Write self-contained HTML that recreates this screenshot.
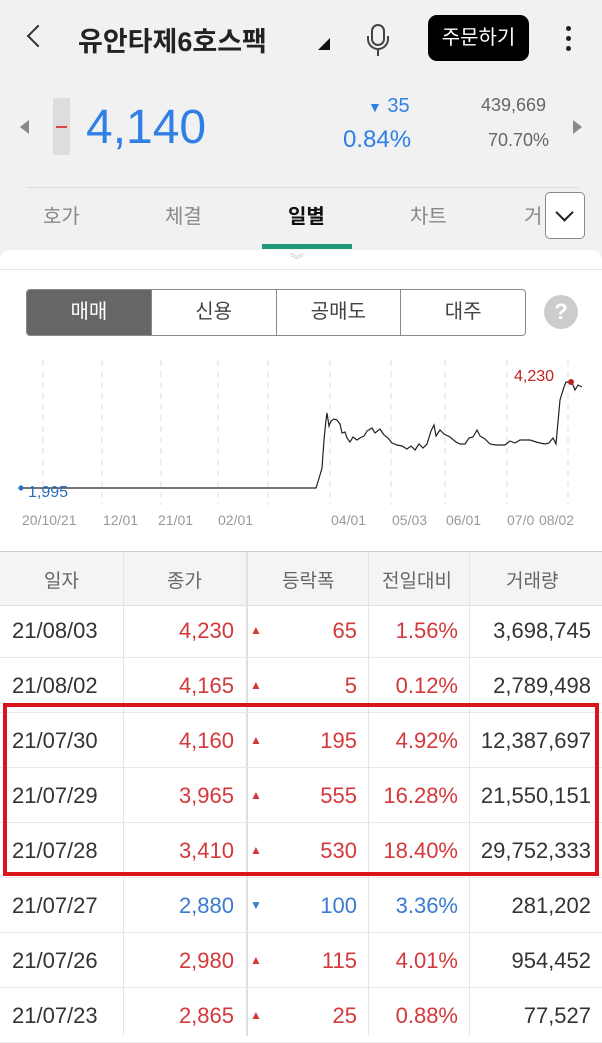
<!DOCTYPE html>
<html><head><meta charset="utf-8"><style>
*{margin:0;padding:0;box-sizing:border-box}
body{width:602px;height:1036px;overflow:hidden;background:#fff;font-family:"Liberation Sans","Noto Sans CJK KR",sans-serif;position:relative}
.a{position:absolute}
.top{left:0;top:0;width:602px;height:262px;background:#f1f1f1}
.row{position:absolute;left:0;width:602px;height:55px;border-bottom:1px solid #e8e8e8}
.c{position:absolute;top:0;height:55px;line-height:55px;font-size:22px;color:#333}
.r{color:#d4383a}.b{color:#3a7ad0}
.vl{position:absolute;top:552px;bottom:0;width:1px;background:#e6e6e6}
</style></head><body>
<div class="a top"></div>
<div class="a" style="top:28px;width:16px;height:16px;border-left:2px solid #333;border-bottom:2px solid #333;transform:rotate(45deg);left:30px"></div>
<div class="a" style="left:78px;top:20px;font-size:27px;font-weight:bold;color:#222">유안타제6호스팩</div>
<div class="a" style="left:318px;top:38px;width:0;height:0;border-left:12px solid transparent;border-bottom:12px solid #111"></div>
<div class="a" style="left:371px;top:24px;width:14px;height:22px;border:2px solid #444;border-radius:7px"></div>
<div class="a" style="left:367px;top:36px;width:22px;height:14px;border:2px solid #444;border-top:none;border-radius:0 0 11px 11px"></div>
<div class="a" style="left:377px;top:50px;width:2px;height:6px;background:#444"></div>
<div class="a" style="left:428px;top:15px;width:101px;height:46px;background:#000;border-radius:9px;color:#fff;font-size:20px;line-height:46px;text-align:center">주문하기</div>
<div class="a" style="left:566px;top:26px;width:5px;height:5px;background:#222;border-radius:50%;box-shadow:0 10px 0 #222,0 20px 0 #222"></div>
<div class="a" style="left:20px;top:120px;width:0;height:0;border-top:7px solid transparent;border-bottom:7px solid transparent;border-right:9px solid #888"></div>
<div class="a" style="left:53px;top:98px;width:17px;height:57px;background:#ddd"></div>
<div class="a" style="left:56px;top:126px;width:11px;height:2px;background:#d44"></div>
<div class="a" style="left:86px;top:100px;font-size:48px;color:#2f7fe6">4,140</div>
<div class="a" style="left:368px;top:95px;font-size:20px;color:#2f7fe6"><span style="font-size:14px">▼</span> 35</div>
<div class="a" style="left:343px;top:126px;font-size:24px;color:#2f7fe6">0.84%</div>
<div class="a" style="left:481px;top:95px;font-size:18px;color:#666">439,669</div>
<div class="a" style="left:488px;top:130px;font-size:18px;color:#666">70.70%</div>
<div class="a" style="left:573px;top:120px;width:0;height:0;border-top:7px solid transparent;border-bottom:7px solid transparent;border-left:9px solid #888"></div>
<div class="a" style="left:27px;top:187px;width:552px;height:1px;background:#ddd"></div>
<div class="a" style="left:43px;top:200px;font-size:20px;color:#888">호가</div>
<div class="a" style="left:165px;top:200px;font-size:20px;color:#888">체결</div>
<div class="a" style="left:288px;top:200px;font-size:20px;color:#111;font-weight:bold">일별</div>
<div class="a" style="left:410px;top:200px;font-size:20px;color:#888">차트</div>
<div class="a" style="left:524px;top:200px;font-size:20px;color:#888">거</div>
<div class="a" style="left:545px;top:192px;width:40px;height:47px;background:#fff;border:1.5px solid #888;border-radius:5px"></div>
<div class="a" style="left:558px;top:206px;width:13px;height:13px;border-right:2px solid #222;border-bottom:2px solid #222;transform:rotate(45deg)"></div>
<div class="a" style="left:262px;top:244px;width:90px;height:5px;background:#1e9a7a"></div>
<div class="a" style="left:0;top:250px;width:602px;height:20px;background:#fff;border-radius:10px 10px 0 0"></div>
<div class="a" style="left:290px;top:250px;color:#ccc;font-size:14px">︾</div>
<div class="a" style="left:0;top:269px;width:602px;height:1px;background:#e5e5e5"></div>
<div class="a" style="left:26px;top:289px;width:500px;height:47px;border:1.5px solid #888;border-radius:4px;display:flex;font-size:20px;color:#444;overflow:hidden">
<div style="flex:1;background:#666;color:#fff;text-align:center;line-height:44px">매매</div>
<div style="flex:1;text-align:center;line-height:44px;border-left:1.5px solid #888">신용</div>
<div style="flex:1;text-align:center;line-height:44px;border-left:1.5px solid #888">공매도</div>
<div style="flex:1;text-align:center;line-height:44px;border-left:1.5px solid #888">대주</div></div>
<div class="a" style="left:544px;top:295px;width:34px;height:34px;border-radius:50%;background:#ccc;color:#fff;font-size:22px;font-weight:bold;text-align:center;line-height:34px">?</div>
<svg class="a" style="left:0;top:340px" width="602" height="200">
<g stroke="#ddd" stroke-dasharray="6,5" stroke-width="1">
<line x1="43" y1="20" x2="43" y2="165"/><line x1="102" y1="20" x2="102" y2="165"/><line x1="161" y1="20" x2="161" y2="165"/><line x1="218" y1="20" x2="218" y2="165"/><line x1="268" y1="20" x2="268" y2="165"/><line x1="330" y1="20" x2="330" y2="165"/><line x1="391" y1="20" x2="391" y2="165"/><line x1="445" y1="20" x2="445" y2="165"/><line x1="507" y1="20" x2="507" y2="165"/><line x1="568" y1="20" x2="568" y2="165"/></g>
<polyline fill="none" stroke="#222" stroke-width="1.2" points="21,148 316,148 320,135 322,128 324,100 326,80 327,73 329,86 331,81 334,79 337,80 340,84 342,93 345,92 347,98 350,102 353,97 357,100 360,98 364,96 367,91 372,88 375,93 380,89 384,95 388,98 392,103 397,105 402,106 407,109 411,106 415,110 419,104 423,108 427,104 431,91 434,85 436,96 440,90 444,94 450,97 456,102 460,104 465,104 469,98 473,97 477,90 480,96 485,99 490,104 496,105 505,105 510,101 515,103 520,100 530,100 536,102 540,103 545,104 549,103 553,98 556,104 560,60 564,47 566,42 570,42 573,45 575,50 578,45 582,47"/>
<circle cx="21" cy="148" r="2.5" fill="#2a6fbd"/>
<text x="28" y="157" font-size="16" fill="#2a6fbd" font-family="Liberation Sans">1,995</text>
<circle cx="571" cy="42" r="3" fill="#b22"/>
<text x="514" y="41" font-size="16" fill="#b22" font-family="Liberation Sans">4,230</text>
<g font-size="14" fill="#999" font-family="Liberation Sans">
<text x="22" y="185">20/10/21</text><text x="103" y="185">12/01</text><text x="158" y="185">21/01</text><text x="218" y="185">02/01</text><text x="331" y="185">04/01</text><text x="392" y="185">05/03</text><text x="446" y="185">06/01</text><text x="507" y="185">07/0</text><text x="539" y="185">08/02</text></g>
</svg>
<div class="a" style="left:0;top:551px;width:602px;height:55px;background:#f4f4f4;border-top:1px solid #ccc;border-bottom:1px solid #e0e0e0;font-size:19px;color:#666">
<span class="a" style="left:44px;top:14px">일자</span><span class="a" style="left:167px;top:14px">종가</span><span class="a" style="left:282px;top:14px">등락폭</span><span class="a" style="left:382px;top:14px">전일대비</span><span class="a" style="left:506px;top:14px">거래량</span></div>
<div class="vl" style="left:123px"></div><div class="vl" style="left:246px;width:2px;background:#e0e0e0"></div><div class="vl" style="left:368px"></div><div class="vl" style="left:469px"></div>
<div class="row" style="top:603px"><span class="c" style="left:12px">21/08/03</span><span class="c r" style="right:368px">4,230</span><span class="c r" style="left:250px;font-size:12px">▲</span><span class="c r" style="right:245px">65</span><span class="c r" style="right:144px">1.56%</span><span class="c" style="right:11px">3,698,745</span></div>
<div class="row" style="top:658px"><span class="c" style="left:12px">21/08/02</span><span class="c r" style="right:368px">4,165</span><span class="c r" style="left:250px;font-size:12px">▲</span><span class="c r" style="right:245px">5</span><span class="c r" style="right:144px">0.12%</span><span class="c" style="right:11px">2,789,498</span></div>
<div class="row" style="top:713px"><span class="c" style="left:12px">21/07/30</span><span class="c r" style="right:368px">4,160</span><span class="c r" style="left:250px;font-size:12px">▲</span><span class="c r" style="right:245px">195</span><span class="c r" style="right:144px">4.92%</span><span class="c" style="right:11px">12,387,697</span></div>
<div class="row" style="top:768px"><span class="c" style="left:12px">21/07/29</span><span class="c r" style="right:368px">3,965</span><span class="c r" style="left:250px;font-size:12px">▲</span><span class="c r" style="right:245px">555</span><span class="c r" style="right:144px">16.28%</span><span class="c" style="right:11px">21,550,151</span></div>
<div class="row" style="top:823px"><span class="c" style="left:12px">21/07/28</span><span class="c r" style="right:368px">3,410</span><span class="c r" style="left:250px;font-size:12px">▲</span><span class="c r" style="right:245px">530</span><span class="c r" style="right:144px">18.40%</span><span class="c" style="right:11px">29,752,333</span></div>
<div class="row" style="top:878px"><span class="c" style="left:12px">21/07/27</span><span class="c b" style="right:368px">2,880</span><span class="c b" style="left:250px;font-size:12px">▼</span><span class="c b" style="right:245px">100</span><span class="c b" style="right:144px">3.36%</span><span class="c" style="right:11px">281,202</span></div>
<div class="row" style="top:933px"><span class="c" style="left:12px">21/07/26</span><span class="c r" style="right:368px">2,980</span><span class="c r" style="left:250px;font-size:12px">▲</span><span class="c r" style="right:245px">115</span><span class="c r" style="right:144px">4.01%</span><span class="c" style="right:11px">954,452</span></div>
<div class="row" style="top:988px"><span class="c" style="left:12px">21/07/23</span><span class="c r" style="right:368px">2,865</span><span class="c r" style="left:250px;font-size:12px">▲</span><span class="c r" style="right:245px">25</span><span class="c r" style="right:144px">0.88%</span><span class="c" style="right:11px">77,527</span></div>
<div class="a" style="left:3px;top:703px;width:596px;height:173px;border:4px solid #d9141b"></div>
</body></html>
